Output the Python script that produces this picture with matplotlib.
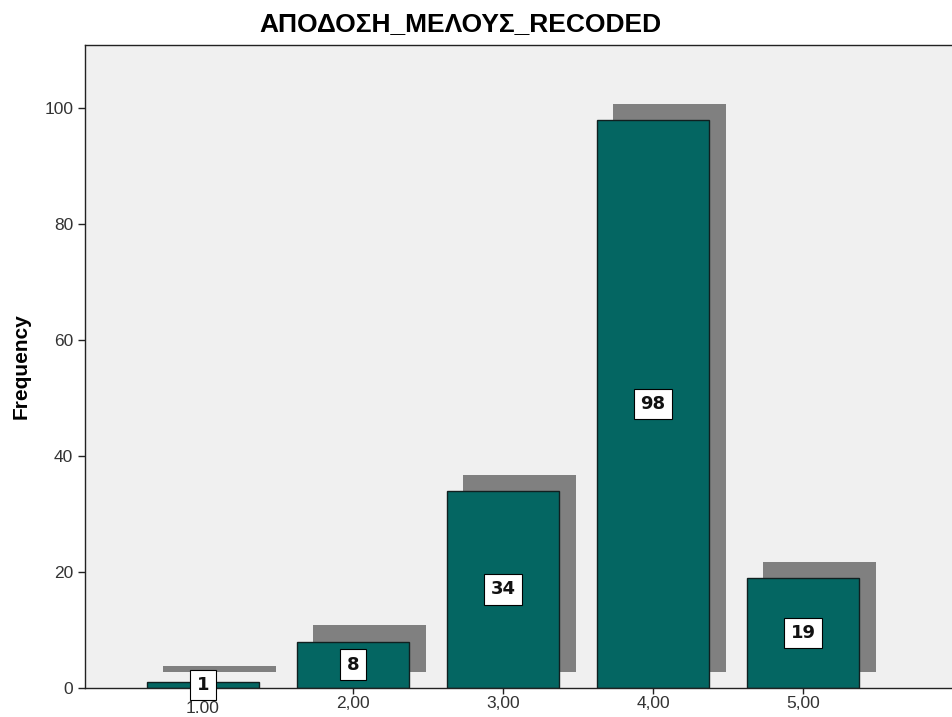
import matplotlib.pyplot as plt

# Frequencies per recoded category
categories = [1, 2, 3, 4, 5]
tick_labels = ["1.00", "2,00", "3,00", "4,00", "5,00"]
counts = [1, 8, 34, 98, 19]

plt.rcParams['font.family'] = ['Liberation Sans', 'DejaVu Sans']

fig = plt.figure(figsize=(9.53, 7.17), dpi=100)
ax = fig.add_axes([85 / 953, 1 - 688 / 717, 1 - 85 / 953, (688 - 45) / 717])
ax.set_facecolor('#f0f0f0')

bar_w = 0.75
dx, dy = 0.11, 2.8  # drop-shadow offset in data units

# shadows first, then bars on top
ax.bar([c + dx for c in categories], counts, width=bar_w, bottom=dy,
       color='#808080', linewidth=0, zorder=1)
ax.bar(categories, counts, width=bar_w, color='#046662',
       edgecolor='#102020', linewidth=1.0, zorder=2)

for c, v in zip(categories, counts):
    ax.text(c, v / 2, str(v), ha='center', va='center', fontsize=13,
            fontweight='bold', family=['DejaVu Sans'], color='#111111',
            zorder=3,
            bbox=dict(boxstyle='square,pad=0.35', fc='white', ec='black', lw=0.8))

ax.set_xlim(0.213, 6.0)
ax.set_ylim(0, 110.9)
ax.set_yticks([0, 20, 40, 60, 80, 100])
ax.set_xticks(categories)
ax.set_xticklabels(tick_labels)
ax.tick_params(axis='both', labelsize=12.5, labelcolor='#333333', length=5,
               width=1.0, color='#222222')
ax.tick_params(axis='x', direction='inout', length=8, pad=2)
# the first category label sits a little lower
ax.get_xticklabels()[0].set_y(-0.007)

ax.spines['right'].set_visible(False)
for side in ['left', 'bottom', 'top']:
    ax.spines[side].set_color('#222222')
    ax.spines[side].set_linewidth(1.0)

ax.set_ylabel('Frequency', fontsize=15, fontweight='bold', labelpad=10)
fig.text(460 / 953, 1 - 24 / 717, 'ΑΠΟΔΟΣΗ_ΜΕΛΟΥΣ_RECODED', ha='center',
         va='center', fontsize=19, fontweight='bold')

fig.savefig('out.png', dpi=100)
